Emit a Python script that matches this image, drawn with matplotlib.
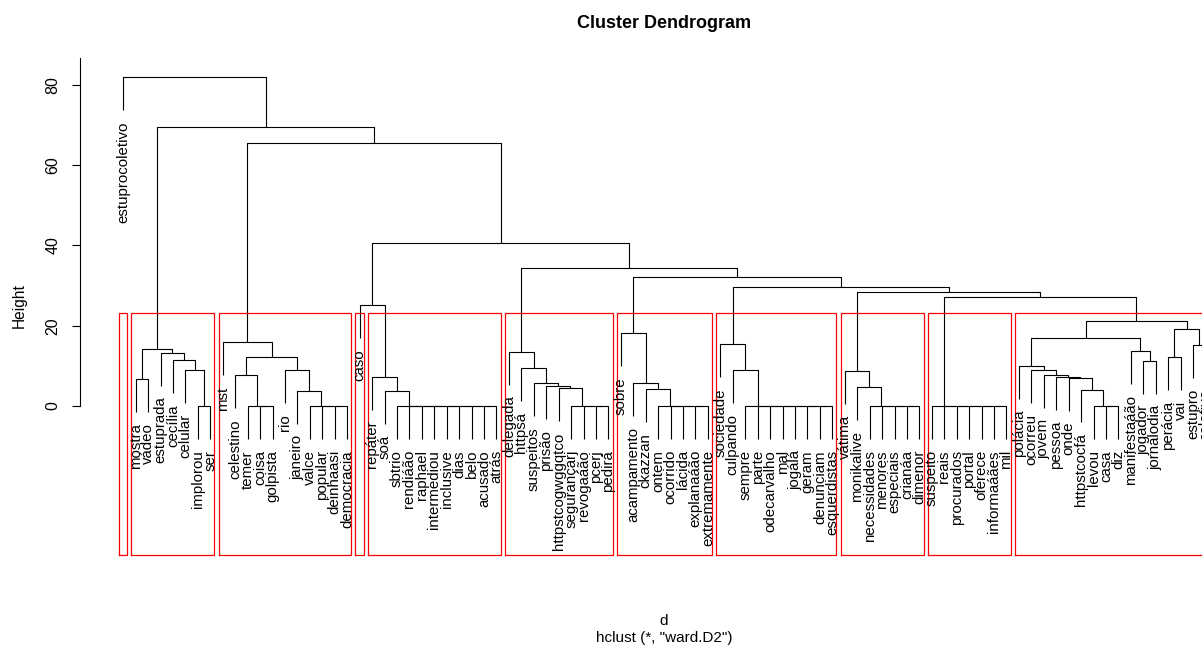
import matplotlib
matplotlib.use('Agg')
import matplotlib.pyplot as plt
from matplotlib.collections import LineCollection

# ---------------- data ----------------
leaf_labels = [
    'estuprocoletivo', 'mostra', 'vádeo', 'estuprada', 'cecília', 'celular', 'implorou', 'ser',
    'mst', 'celestino', 'temer', 'coisa', 'golpista', 'rio', 'janeiro', 'valce', 'popular',
    'deinhaasi', 'democracia', 'caso', 'repáter', 'soá', 'sbtrio', 'rendiáão', 'raphael',
    'intermediou', 'inclusive', 'dias', 'belo', 'acusado', 'atrás', 'delegada', 'httpsá',
    'suspeitos', 'prisão', 'httpstcogwggqtco', 'segurançarj', 'revogaáão', 'pcerj', 'pedirá',
    'sobre', 'acampamento', 'ckazzan', 'ontem', 'ocorrido', 'lácida', 'explanaáão',
    'extremamente', 'sociedade', 'culpando', 'sempre', 'parte', 'odecarvalho', 'mal', 'jogálá',
    'geram', 'denunciam', 'esquerdistas', 'vátima', 'monikalive', 'necessidades', 'menores',
    'especiais', 'crianáa', 'dimenor', 'suspeito', 'reais', 'procurados', 'portal', 'oferece',
    'informaáães', 'mil', 'polácia', 'ocorreu', 'jovem', 'pessoa', 'onde', 'httpstcocfá',
    'levou', 'casa', 'diz', 'manifestaáão', 'jogador', 'jornalodia', 'perácia', 'vai',
    'estupro', 'coletivo',
]

# groups of words joined at height 0
zero_group_names = ['g_is', 'g_tcg', 'g_vpdd', 'g_sb', 'g_sr', 'g_oc', 'g_sp', 'g_nd', 'g_su', 'g_lcd']
zero_group_members = [
    ['implorou', 'ser'],
    ['temer', 'coisa', 'golpista'],
    ['valce', 'popular', 'deinhaasi', 'democracia'],
    ['sbtrio', 'rendiáão', 'raphael', 'intermediou', 'inclusive', 'dias', 'belo', 'acusado', 'atrás'],
    ['segurançarj', 'revogaáão', 'pcerj', 'pedirá'],
    ['ontem', 'ocorrido', 'lácida', 'explanaáão', 'extremamente'],
    ['sempre', 'parte', 'odecarvalho', 'mal', 'jogálá', 'geram', 'denunciam', 'esquerdistas'],
    ['necessidades', 'menores', 'especiais', 'crianáa', 'dimenor'],
    ['suspeito', 'reais', 'procurados', 'portal', 'oferece', 'informaáães', 'mil'],
    ['levou', 'casa', 'diz'],
]

# merges (in order): node name, left child, right child, height
merge_name = ['c1a', 'c1b', 'c1c', 'c1d', 'C1',
              'c2a', 'c2b', 'c2c', 'c2d', 'C2',
              'c3a', 'c3b', 'C3',
              'c4a', 'c4b', 'c4c', 'c4d', 'C4',
              'c5a', 'c5b', 'C5',
              'c6a', 'C6',
              'c7a', 'C7',
              'c8a', 'c8b', 'c8c', 'c8d', 'c8e', 'c8f', 'c8g', 'c8h', 'c8i', 'c8j', 'c8k', 'c8l', 'C8',
              'B', 'A', 'Y', 'X', 'W', 'V', 'U', 'T', 'root']
merge_left = ['mostra', 'celular', 'cecília', 'estuprada', 'c1a',
              'celestino', 'janeiro', 'rio', 'c2a', 'mst',
              'soá', 'repáter', 'caso',
              'httpstcogwggqtco', 'prisão', 'suspeitos', 'httpsá', 'delegada',
              'ckazzan', 'acampamento', 'sobre',
              'culpando', 'sociedade',
              'monikalive', 'vátima',
              'httpstcocfá', 'onde', 'pessoa', 'jovem', 'ocorreu', 'polácia', 'jogador',
              'manifestaáão', 'c8f', 'perácia', 'estupro', 'c8j', 'c8i',
              'g_su', 'C7', 'C6', 'C5', 'C4', 'C3', 'C2', 'C1', 'estuprocoletivo']
merge_right = ['vádeo', 'g_is', 'c1b', 'c1c', 'c1d',
               'g_tcg', 'g_vpdd', 'c2b', 'c2c', 'c2d',
               'g_sb', 'c3a', 'c3b',
               'g_sr', 'c4a', 'c4b', 'c4c', 'c4d',
               'g_oc', 'c5a', 'c5b',
               'g_sp', 'c6a',
               'g_nd', 'c7a',
               'g_lcd', 'c8a', 'c8b', 'c8c', 'c8d', 'c8e', 'jornalodia',
               'c8g', 'c8h', 'vai', 'coletivo', 'c8k', 'c8l',
               'C8', 'B', 'A', 'Y', 'X', 'W', 'V', 'U', 'T']
merge_height = [6.65, 8.97, 11.46, 13.28, 14.12,
                7.65, 3.74, 8.97, 12.28, 15.87,
                3.74, 7.30, 25.16,
                4.41, 4.98, 5.65, 9.54, 13.53,
                4.23, 5.65, 18.11,
                8.97, 15.44,
                4.66, 8.72,
                4.10, 7.00, 7.30, 7.72, 8.97, 10.04, 11.21, 13.63, 16.86, 12.28, 15.20, 19.11, 21.17,
                27.1, 28.3, 29.7, 32.2, 34.3, 40.7, 65.6, 69.6, 81.9]

n_clusters = 11
y_ticks = [0, 20, 40, 60, 80]

# ---------------- tree geometry ----------------
leaf_pos = {lab: i for i, lab in enumerate(leaf_labels)}
max_h = max(merge_height)
hang = 0.1 * max_h

# expand zero-height groups into nested merges (a, (b, (c, ...)))
merges = []
for gname, members in zip(zero_group_names, zero_group_members):
    right = members[-1]
    for k in range(len(members) - 2, -1, -1):
        nm = gname if k == 0 else f'{gname}_{k}'
        merges.append((nm, members[k], right, 0.0))
        right = nm
for nm, l, r, h in zip(merge_name, merge_left, merge_right, merge_height):
    merges.append((nm, l, r, h))

node_x, node_h, node_leaves = {}, {}, {}
for lab in leaf_labels:
    node_x[lab] = leaf_pos[lab]
    node_leaves[lab] = [lab]

segs = []
leaf_bottom = {}
for nm, l, r, h in merges:
    xl, xr = node_x[l], node_x[r]
    yl = node_h[l] if l in node_h else h - hang
    yr = node_h[r] if r in node_h else h - hang
    if l not in node_h:
        leaf_bottom[l] = yl
    if r not in node_h:
        leaf_bottom[r] = yr
    segs.append([(xl, yl), (xl, h), (xr, h), (xr, yr)])
    node_x[nm] = (xl + xr) / 2
    node_h[nm] = h
    node_leaves[nm] = node_leaves[l] + node_leaves[r]

# ---------------- figure ----------------
W, H = 1202, 645
fig = plt.figure(figsize=(W / 100, H / 100), dpi=100)
plt.rcParams['font.family'] = ['Liberation Sans', 'DejaVu Sans']

ax = fig.add_axes([80 / W, (H - 555) / H, 1168.8 / W, 497 / H])
ax.set_xlim(-3.48, 90.48)
ax.set_ylim(-37.1, 86.7)

ax.add_collection(LineCollection(segs, colors='black', linewidths=0.8, capstyle='butt'))

for lab in leaf_labels:
    ax.annotate(lab, xy=(leaf_pos[lab], leaf_bottom[lab]), xytext=(0, -8.0),
                textcoords='offset points', rotation=90, ha='center', va='top',
                fontsize=10.8, annotation_clip=False, color='black')

# rectangles for k clusters
heights_desc = sorted(merge_height, reverse=True)
cut = (heights_desc[n_clusters - 2] + heights_desc[n_clusters - 1]) / 2
parent_h = {}
for nm, l, r, h in merges:
    parent_h[l] = h
    parent_h[r] = h
clusters = [nm for nm in node_x if parent_h.get(nm, 1e9) > cut and node_h.get(nm, 0) <= cut]
y0 = ax.get_ylim()[0]
for c in clusters:
    idx = [leaf_pos[lv] for lv in node_leaves[c]]
    x0, x1 = min(idx) - 0.34, max(idx) + 0.33
    ax.plot([x0, x0, x1, x1, x0], [y0, cut, cut, y0, y0], color='#ff0000', lw=0.9,
            clip_on=False, solid_joinstyle='miter')

# axes styling
for s in ['top', 'right', 'bottom']:
    ax.spines[s].set_visible(False)
ax.spines['left'].set_bounds(0, 86.7)
ax.spines['left'].set_linewidth(0.8)
ax.set_xticks([])
ax.set_yticks(y_ticks)
ax.tick_params(axis='y', length=5.8, width=0.8, direction='out', labelleft=False)
for t in y_ticks:
    ax.annotate(str(t), xy=(0, t), xycoords=('axes fraction', 'data'), xytext=(-19.4, 0),
                textcoords='offset points', rotation=90, ha='center', va='center',
                fontsize=11.5)

fig.text(19 / W, 1 - 305.5 / H, 'Height', rotation=90, ha='center', va='center', fontsize=11.2)
fig.text(664.5 / W, 1 - 28 / H, 'Cluster Dendrogram', ha='center', va='baseline',
         fontsize=13, fontweight='bold')
fig.text(664 / W, 1 - 625 / H, 'd', ha='center', va='baseline', fontsize=11)
fig.text(664 / W, 1 - 642 / H, 'hclust (*, "ward.D2")', ha='center', va='baseline', fontsize=11)

fig.savefig('out.png', dpi=100)
